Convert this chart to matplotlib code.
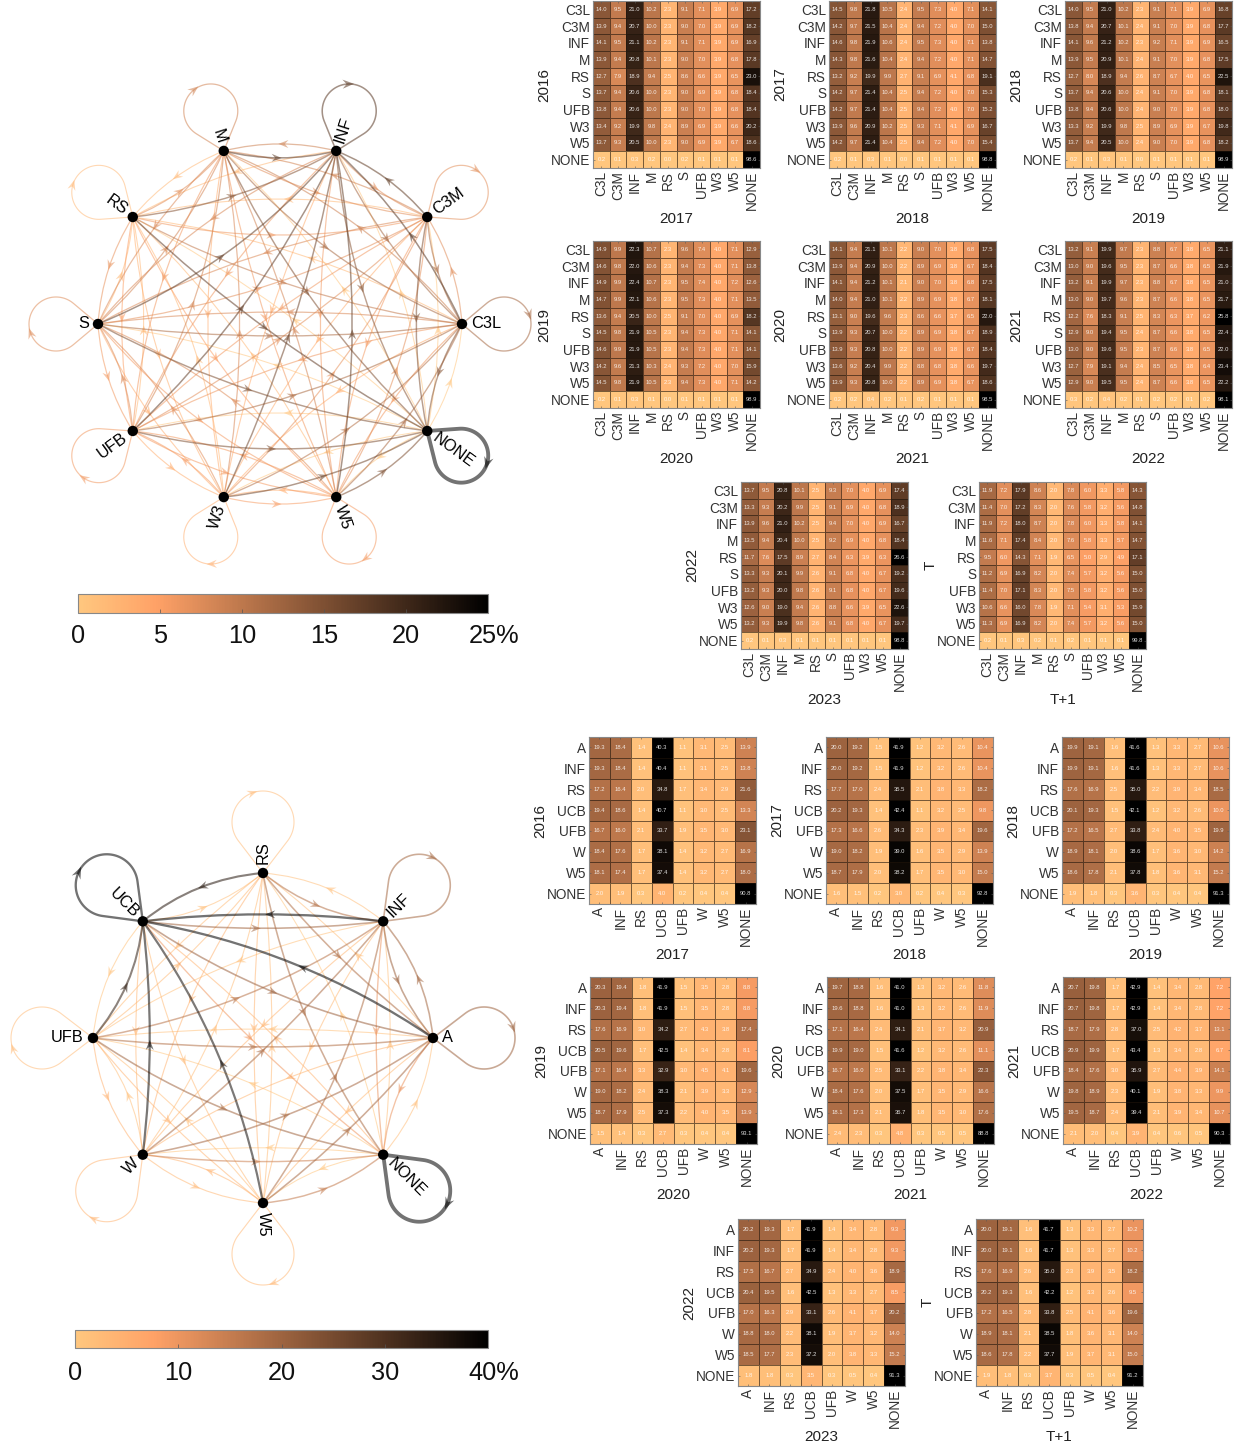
#!/usr/bin/env python3
"""Transition heatmaps by year and the two transition networks."""

import numpy as np
import matplotlib
matplotlib.use('Agg')
import matplotlib.pyplot as plt
from matplotlib.path import Path
from matplotlib.patches import PathPatch, Polygon, Circle
from matplotlib.cm import ScalarMappable
from matplotlib.colors import Normalize
from matplotlib.transforms import ScaledTranslation

plt.rcParams['font.family'] = ['Liberation Sans', 'DejaVu Sans']

W, H = 1234, 1443

# upper block: position classes
TOP_LABELS = ['C3L', 'C3M', 'INF', 'M', 'RS', 'S', 'UFB', 'W3', 'W5', 'NONE']
TOP_CBAR_TICKS = [0, 5, 10, 15, 20, 25]
TOP_CBAR_LABELS = ['0', '5', '10', '15', '20', '25%']

TOP_2017 = [
    [14.0, 9.5, 21.0, 10.2, 2.3, 9.1, 7.1, 3.9, 6.9, 17.2],
    [13.9, 9.4, 20.7, 10.0, 2.3, 9.0, 7.0, 3.9, 6.9, 18.2],
    [14.1, 9.5, 21.1, 10.2, 2.3, 9.1, 7.1, 3.9, 6.9, 16.9],
    [13.9, 9.4, 20.8, 10.1, 2.3, 9.0, 7.0, 3.9, 6.8, 17.8],
    [12.7, 7.9, 18.9, 9.4, 2.5, 8.6, 6.6, 3.9, 6.5, 23.0],
    [13.7, 9.4, 20.6, 10.0, 2.3, 9.0, 6.9, 3.9, 6.8, 18.4],
    [13.8, 9.4, 20.6, 10.0, 2.3, 9.0, 7.0, 3.9, 6.8, 18.4],
    [13.4, 9.2, 19.9, 9.8, 2.4, 8.9, 6.9, 3.9, 6.6, 20.2],
    [13.7, 9.3, 20.5, 10.0, 2.3, 9.0, 6.9, 3.9, 6.7, 18.6],
    [0.2, 0.1, 0.3, 0.2, 0.0, 0.2, 0.1, 0.1, 0.1, 98.6],
]
TOP_2018 = [
    [14.5, 9.8, 21.8, 10.5, 2.4, 9.5, 7.3, 4.0, 7.1, 14.1],
    [14.2, 9.7, 21.5, 10.4, 2.4, 9.4, 7.2, 4.0, 7.0, 15.0],
    [14.6, 9.8, 21.9, 10.6, 2.4, 9.5, 7.3, 4.0, 7.1, 13.8],
    [14.3, 9.8, 21.6, 10.4, 2.4, 9.4, 7.2, 4.0, 7.1, 14.7],
    [13.2, 9.2, 19.9, 9.9, 2.7, 9.1, 6.9, 4.1, 6.8, 19.1],
    [14.2, 9.7, 21.4, 10.4, 2.5, 9.4, 7.2, 4.0, 7.0, 15.3],
    [14.2, 9.7, 21.4, 10.4, 2.5, 9.4, 7.2, 4.0, 7.0, 15.2],
    [13.9, 9.6, 20.9, 10.2, 2.5, 9.3, 7.1, 4.1, 6.9, 16.7],
    [14.2, 9.7, 21.4, 10.4, 2.5, 9.4, 7.2, 4.0, 7.0, 15.4],
    [0.2, 0.1, 0.3, 0.1, 0.0, 0.1, 0.1, 0.1, 0.1, 98.8],
]
TOP_2019 = [
    [14.0, 9.5, 21.0, 10.2, 2.3, 9.1, 7.1, 3.9, 6.9, 16.8],
    [13.8, 9.4, 20.7, 10.1, 2.4, 9.1, 7.0, 3.9, 6.8, 17.7],
    [14.1, 9.6, 21.2, 10.2, 2.3, 9.2, 7.1, 3.9, 6.9, 16.5],
    [13.9, 9.5, 20.9, 10.1, 2.4, 9.1, 7.0, 3.9, 6.8, 17.5],
    [12.7, 8.0, 18.9, 9.4, 2.6, 8.7, 6.7, 4.0, 6.5, 22.5],
    [13.7, 9.4, 20.6, 10.0, 2.4, 9.1, 7.0, 3.9, 6.8, 18.1],
    [13.8, 9.4, 20.6, 10.0, 2.4, 9.0, 7.0, 3.9, 6.8, 18.0],
    [13.3, 9.2, 19.9, 9.8, 2.5, 8.9, 6.9, 3.9, 6.7, 19.8],
    [13.7, 9.4, 20.5, 10.0, 2.4, 9.0, 7.0, 3.9, 6.8, 18.2],
    [0.2, 0.1, 0.3, 0.1, 0.0, 0.1, 0.1, 0.1, 0.1, 98.9],
]
TOP_2020 = [
    [14.9, 9.9, 22.3, 10.7, 2.3, 9.6, 7.4, 4.0, 7.1, 12.9],
    [14.6, 9.8, 22.0, 10.6, 2.3, 9.4, 7.3, 4.0, 7.1, 13.8],
    [14.9, 9.9, 22.4, 10.7, 2.3, 9.5, 7.4, 4.0, 7.2, 12.6],
    [14.7, 9.9, 22.1, 10.6, 2.3, 9.5, 7.3, 4.0, 7.1, 13.5],
    [13.6, 9.4, 20.5, 10.0, 2.5, 9.1, 7.0, 4.0, 6.9, 18.2],
    [14.5, 9.8, 21.9, 10.5, 2.3, 9.4, 7.3, 4.0, 7.1, 14.1],
    [14.6, 9.9, 21.9, 10.5, 2.3, 9.4, 7.3, 4.0, 7.1, 14.1],
    [14.2, 9.6, 21.3, 10.3, 2.4, 9.3, 7.2, 4.0, 7.0, 15.9],
    [14.5, 9.8, 21.9, 10.5, 2.3, 9.4, 7.3, 4.0, 7.1, 14.2],
    [0.2, 0.1, 0.3, 0.1, 0.0, 0.1, 0.1, 0.1, 0.1, 98.9],
]
TOP_2021 = [
    [14.1, 9.4, 21.1, 10.1, 2.2, 9.0, 7.0, 3.8, 6.8, 17.5],
    [13.9, 9.4, 20.9, 10.0, 2.2, 8.9, 6.9, 3.8, 6.7, 18.4],
    [14.1, 9.4, 21.2, 10.1, 2.1, 9.0, 7.0, 3.8, 6.8, 17.5],
    [14.0, 9.4, 21.0, 10.1, 2.2, 8.9, 6.9, 3.8, 6.7, 18.1],
    [13.1, 9.0, 19.6, 9.6, 2.3, 8.6, 6.6, 3.7, 6.5, 22.0],
    [13.9, 9.3, 20.7, 10.0, 2.2, 8.9, 6.9, 3.8, 6.7, 18.9],
    [13.9, 9.3, 20.8, 10.0, 2.2, 8.9, 6.9, 3.8, 6.7, 18.4],
    [13.6, 9.2, 20.4, 9.9, 2.2, 8.8, 6.8, 3.8, 6.6, 19.7],
    [13.9, 9.3, 20.8, 10.0, 2.2, 8.9, 6.9, 3.8, 6.7, 18.6],
    [0.2, 0.2, 0.4, 0.2, 0.1, 0.2, 0.1, 0.1, 0.1, 98.5],
]
TOP_2022 = [
    [13.2, 9.1, 19.9, 9.7, 2.3, 8.8, 6.7, 3.8, 6.5, 21.1],
    [13.0, 9.0, 19.6, 9.5, 2.3, 8.7, 6.6, 3.8, 6.5, 21.9],
    [13.2, 9.1, 19.9, 9.7, 2.3, 8.8, 6.7, 3.8, 6.5, 21.0],
    [13.0, 9.0, 19.7, 9.6, 2.3, 8.7, 6.6, 3.8, 6.5, 21.7],
    [12.2, 7.6, 18.3, 9.1, 2.5, 8.3, 6.3, 3.7, 6.2, 25.8],
    [12.9, 9.0, 19.4, 9.5, 2.4, 8.7, 6.6, 3.8, 6.5, 22.4],
    [13.0, 9.0, 19.6, 9.5, 2.3, 8.7, 6.6, 3.8, 6.5, 22.0],
    [12.7, 7.9, 19.1, 9.4, 2.4, 8.5, 6.5, 3.8, 6.4, 23.4],
    [12.9, 9.0, 19.5, 9.5, 2.4, 8.7, 6.6, 3.8, 6.5, 22.2],
    [0.3, 0.2, 0.4, 0.2, 0.1, 0.2, 0.2, 0.1, 0.2, 98.1],
]
TOP_2023 = [
    [13.7, 9.5, 20.8, 10.1, 2.5, 9.3, 7.0, 4.0, 6.9, 17.4],
    [13.3, 9.3, 20.2, 9.9, 2.5, 9.1, 6.9, 4.0, 6.8, 18.9],
    [13.9, 9.6, 21.0, 10.2, 2.5, 9.4, 7.0, 4.0, 6.9, 16.7],
    [13.5, 9.4, 20.4, 10.0, 2.5, 9.2, 6.9, 4.0, 6.8, 18.4],
    [11.7, 7.6, 17.5, 8.9, 2.7, 8.4, 6.3, 3.9, 6.3, 26.6],
    [13.3, 9.3, 20.1, 9.9, 2.6, 9.1, 6.8, 4.0, 6.7, 19.2],
    [13.2, 9.3, 20.0, 9.8, 2.6, 9.1, 6.8, 4.0, 6.7, 19.6],
    [12.6, 9.0, 19.0, 9.4, 2.6, 8.8, 6.6, 3.9, 6.5, 22.6],
    [13.2, 9.3, 19.9, 9.8, 2.6, 9.1, 6.8, 4.0, 6.7, 19.7],
    [0.2, 0.1, 0.3, 0.1, 0.1, 0.1, 0.1, 0.1, 0.1, 98.8],
]
TOP_T = [
    [11.9, 7.2, 17.9, 8.6, 2.0, 7.8, 6.0, 3.3, 5.8, 14.3],
    [11.4, 7.0, 17.2, 8.3, 2.0, 7.6, 5.8, 3.2, 5.6, 14.8],
    [11.9, 7.2, 18.0, 8.7, 2.0, 7.8, 6.0, 3.3, 5.8, 14.1],
    [11.6, 7.1, 17.4, 8.4, 2.0, 7.6, 5.8, 3.3, 5.7, 14.7],
    [9.5, 6.0, 14.3, 7.1, 1.9, 6.5, 5.0, 2.9, 4.9, 17.1],
    [11.2, 6.9, 16.9, 8.2, 2.0, 7.4, 5.7, 3.2, 5.6, 15.0],
    [11.4, 7.0, 17.1, 8.3, 2.0, 7.5, 5.8, 3.2, 5.6, 15.0],
    [10.6, 6.6, 16.0, 7.8, 1.9, 7.1, 5.4, 3.1, 5.3, 15.9],
    [11.3, 6.9, 16.9, 8.2, 2.0, 7.4, 5.7, 3.2, 5.6, 15.0],
    [0.2, 0.1, 0.3, 0.2, 0.1, 0.2, 0.1, 0.1, 0.1, 99.8],
]

# lower block: technique classes
BOT_LABELS = ['A', 'INF', 'RS', 'UCB', 'UFB', 'W', 'W5', 'NONE']
BOT_CBAR_TICKS = [0, 10, 20, 30, 40]
BOT_CBAR_LABELS = ['0', '10', '20', '30', '40%']

BOT_2017 = [
    [19.3, 18.4, 1.4, 40.3, 1.1, 3.1, 2.5, 13.9],
    [19.3, 18.4, 1.4, 40.4, 1.1, 3.1, 2.5, 13.8],
    [17.2, 16.4, 2.0, 34.8, 1.7, 3.4, 2.9, 21.6],
    [19.4, 18.6, 1.4, 40.7, 1.1, 3.0, 2.5, 13.3],
    [16.7, 16.0, 2.1, 33.7, 1.9, 3.5, 3.0, 23.1],
    [18.4, 17.6, 1.7, 38.1, 1.4, 3.2, 2.7, 16.9],
    [18.1, 17.4, 1.7, 37.4, 1.4, 3.2, 2.7, 18.0],
    [2.0, 1.9, 0.3, 4.0, 0.2, 0.4, 0.4, 90.8],
]
BOT_2018 = [
    [20.0, 19.2, 1.5, 41.9, 1.2, 3.2, 2.6, 10.4],
    [20.0, 19.2, 1.5, 41.9, 1.2, 3.2, 2.6, 10.4],
    [17.7, 17.0, 2.4, 35.5, 2.1, 3.8, 3.3, 18.2],
    [20.2, 19.3, 1.4, 42.4, 1.1, 3.2, 2.5, 9.8],
    [17.3, 16.6, 2.6, 34.3, 2.3, 3.9, 3.4, 19.6],
    [19.0, 18.2, 1.9, 39.0, 1.6, 3.5, 2.9, 13.9],
    [18.7, 17.9, 2.0, 38.2, 1.7, 3.5, 3.0, 15.0],
    [1.6, 1.5, 0.2, 3.0, 0.2, 0.4, 0.3, 92.8],
]
BOT_2019 = [
    [19.9, 19.1, 1.6, 41.6, 1.3, 3.3, 2.7, 10.6],
    [19.9, 19.1, 1.6, 41.6, 1.3, 3.3, 2.7, 10.6],
    [17.6, 16.9, 2.5, 35.0, 2.2, 3.9, 3.4, 18.5],
    [20.1, 19.3, 1.5, 42.1, 1.2, 3.2, 2.6, 10.0],
    [17.2, 16.5, 2.7, 33.8, 2.4, 4.0, 3.5, 19.9],
    [18.9, 18.1, 2.0, 38.6, 1.7, 3.6, 3.0, 14.2],
    [18.6, 17.8, 2.1, 37.8, 1.8, 3.6, 3.1, 15.2],
    [1.9, 1.8, 0.3, 3.6, 0.3, 0.4, 0.4, 91.3],
]
BOT_2020 = [
    [20.3, 19.4, 1.8, 41.9, 1.5, 3.5, 2.8, 8.8],
    [20.3, 19.4, 1.8, 41.9, 1.5, 3.5, 2.8, 8.8],
    [17.6, 16.9, 3.0, 34.2, 2.7, 4.3, 3.8, 17.4],
    [20.5, 19.6, 1.7, 42.5, 1.4, 3.4, 2.8, 8.1],
    [17.1, 16.4, 3.3, 32.9, 3.0, 4.5, 4.1, 19.6],
    [19.0, 18.2, 2.4, 38.3, 2.1, 3.9, 3.3, 12.9],
    [18.7, 17.9, 2.5, 37.3, 2.2, 4.0, 3.5, 13.9],
    [1.5, 1.4, 0.3, 2.7, 0.3, 0.4, 0.4, 93.1],
]
BOT_2021 = [
    [19.7, 18.8, 1.6, 41.0, 1.3, 3.2, 2.6, 11.8],
    [19.6, 18.8, 1.6, 41.0, 1.3, 3.2, 2.6, 11.9],
    [17.1, 16.4, 2.4, 34.1, 2.1, 3.7, 3.2, 20.9],
    [19.9, 19.0, 1.5, 41.6, 1.2, 3.2, 2.6, 11.1],
    [16.7, 16.0, 2.5, 33.1, 2.2, 3.8, 3.4, 22.3],
    [18.4, 17.6, 2.0, 37.5, 1.7, 3.5, 2.9, 16.6],
    [18.1, 17.3, 2.1, 36.7, 1.8, 3.5, 3.0, 17.6],
    [2.4, 2.3, 0.3, 4.8, 0.3, 0.5, 0.5, 88.8],
]
BOT_2022 = [
    [20.7, 19.8, 1.7, 42.9, 1.4, 3.4, 2.8, 7.2],
    [20.7, 19.8, 1.7, 42.9, 1.4, 3.4, 2.8, 7.2],
    [18.7, 17.9, 2.8, 37.0, 2.5, 4.2, 3.7, 13.1],
    [20.9, 19.9, 1.7, 43.4, 1.3, 3.4, 2.8, 6.7],
    [18.4, 17.6, 3.0, 35.9, 2.7, 4.4, 3.9, 14.1],
    [19.8, 18.9, 2.3, 40.1, 1.9, 3.8, 3.3, 9.9],
    [19.5, 18.7, 2.4, 39.4, 2.1, 3.9, 3.4, 10.7],
    [2.1, 2.0, 0.4, 3.9, 0.4, 0.6, 0.5, 90.3],
]
BOT_2023 = [
    [20.2, 19.3, 1.7, 41.9, 1.4, 3.4, 2.8, 9.3],
    [20.2, 19.3, 1.7, 41.9, 1.4, 3.4, 2.8, 9.3],
    [17.5, 16.7, 2.7, 34.9, 2.4, 4.0, 3.6, 18.9],
    [20.4, 19.5, 1.6, 42.5, 1.3, 3.3, 2.7, 8.5],
    [17.0, 16.3, 2.9, 33.1, 2.6, 4.1, 3.7, 20.2],
    [18.8, 18.0, 2.2, 38.1, 1.9, 3.7, 3.2, 14.0],
    [18.5, 17.7, 2.3, 37.2, 2.0, 3.8, 3.3, 15.2],
    [1.8, 1.8, 0.3, 3.5, 0.3, 0.5, 0.4, 91.3],
]
BOT_T = [
    [20.0, 19.1, 1.6, 41.7, 1.3, 3.3, 2.7, 10.2],
    [20.0, 19.1, 1.6, 41.7, 1.3, 3.3, 2.7, 10.2],
    [17.6, 16.9, 2.6, 35.0, 2.3, 3.9, 3.5, 18.2],
    [20.2, 19.3, 1.6, 42.2, 1.2, 3.3, 2.6, 9.5],
    [17.2, 16.5, 2.8, 33.8, 2.5, 4.1, 3.6, 19.6],
    [18.9, 18.1, 2.1, 38.5, 1.8, 3.6, 3.1, 14.0],
    [18.6, 17.8, 2.2, 37.7, 1.9, 3.7, 3.1, 15.0],
    [1.9, 1.8, 0.3, 3.7, 0.3, 0.5, 0.4, 91.2],
]

# panel layout in reference pixels: matrix, row title, column title, left, top
TOP_PANELS = [
    (TOP_2017, '2016', '2017', 593, 1), (TOP_2018, '2017', '2018', 829, 1),
    (TOP_2019, '2018', '2019', 1065, 1), (TOP_2020, '2019', '2020', 593, 241),
    (TOP_2021, '2020', '2021', 829, 241), (TOP_2022, '2021', '2022', 1065, 241),
    (TOP_2023, '2022', '2023', 741, 482), (TOP_T, 'T', 'T+1', 979, 482),
]
BOT_PANELS = [
    (BOT_2017, '2016', '2017', 589, 737), (BOT_2018, '2017', '2018', 826, 737),
    (BOT_2019, '2018', '2019', 1062, 737), (BOT_2020, '2019', '2020', 590, 977),
    (BOT_2021, '2020', '2021', 827, 977), (BOT_2022, '2021', '2022', 1063, 977),
    (BOT_2023, '2022', '2023', 738, 1219), (BOT_T, 'T', 'T+1', 976, 1219),
]
PANEL_SIZE = 167
EDGE_ALPHA = 0.55
BASE_LW_PX = 1.05
CMAP = plt.get_cmap('copper_r')


def px_axes(fig, left, top, width, height):
    return fig.add_axes([left / W, 1 - (top + height) / H, width / W, height / H])


def draw_heatmap(fig, matrix, labels, row_title, col_title, left, top, vmax):
    ax = px_axes(fig, left, top, PANEL_SIZE, PANEL_SIZE)
    vals = np.array(matrix)
    n = len(labels)
    ax.pcolormesh(vals, cmap=CMAP, vmin=0, vmax=vmax,
                  edgecolors=(0.12, 0.08, 0.04, 0.6), linewidth=0.6)
    ax.set_xlim(0, n)
    ax.set_ylim(n, 0)
    for r in range(n):
        for c in range(n):
            ax.text(c + 0.5, r + 0.5, f'{vals[r, c]:.1f}', ha='center', va='center',
                    fontsize=4.2, color='white', alpha=0.85)
    pos = np.arange(n) + 0.5
    ax.set_xticks(pos, labels, rotation=90, fontsize=9.8, color='#333333')
    ax.set_yticks(pos, labels, fontsize=9.8, color='#333333')
    ax.tick_params(direction='in', length=1.5, width=0.4, color='#555555', pad=2,
                   top=True, right=True)
    for spine in ax.spines.values():
        spine.set_color('#888888')
        spine.set_linewidth(0.8)
    ax.annotate(col_title, xy=(0.5, 0), xycoords='axes fraction', xytext=(0, -36.5),
                textcoords='offset points', ha='center', va='center',
                fontsize=11, color='#222222')
    ax.annotate(row_title, xy=(0, 0.5), xycoords='axes fraction', xytext=(-35, 0),
                textcoords='offset points', ha='center', va='center', rotation=90,
                fontsize=11, color='#222222')


def arrow_head(ax, tip, heading, size, color, zorder):
    # barbed head, concave at the back
    ux, uy = heading / np.hypot(*heading)
    nx, ny = -uy, ux
    x, y = tip
    half = 0.4 * size
    pts = [(x + 0.5 * size * ux, y + 0.5 * size * uy),
           (x - 0.5 * size * ux + half * nx, y - 0.5 * size * uy + half * ny),
           (x - 0.15 * size * ux, y - 0.15 * size * uy),
           (x - 0.5 * size * ux - half * nx, y - 0.5 * size * uy - half * ny)]
    ax.add_patch(Polygon(pts, closed=True, facecolor=color, edgecolor='none',
                         alpha=EDGE_ALPHA, zorder=zorder))


def draw_edge(ax, p0, p1, sag, weight, vmax, lw_scale, zorder):
    p0, p1 = np.array(p0), np.array(p1)
    d = p1 - p0
    # edges bow to the right of the travel direction
    normal = np.array([d[1], -d[0]]) / np.hypot(*d)
    ctrl = (p0 + p1) / 2 + 2 * sag * normal
    color = CMAP(min(weight / vmax, 1.0))
    lw = (BASE_LW_PX + lw_scale * weight / vmax) * 0.72
    ax.add_patch(PathPatch(Path([p0, ctrl, p1], [Path.MOVETO, Path.CURVE3, Path.CURVE3]),
                           fill=False, edgecolor=color, linewidth=lw,
                           alpha=EDGE_ALPHA, zorder=zorder))
    t = 0.47
    mid = (1 - t) ** 2 * p0 + 2 * t * (1 - t) * ctrl + t ** 2 * p1
    heading = 2 * (1 - t) * (ctrl - p0) + 2 * t * (p1 - ctrl)
    arrow_head(ax, mid, heading, 10, color, zorder)


def draw_loop(ax, node, theta, dist, rad, weight, vmax, lw_scale, zorder):
    node = np.array(node)
    center = node + dist * np.array([np.cos(theta), np.sin(theta)])
    beta = np.arccos(rad / dist)
    angles = np.linspace(theta + np.pi - beta, theta - np.pi + beta, 80)
    arc = center + rad * np.column_stack([np.cos(angles), np.sin(angles)])
    pts = np.vstack([node, arc, node])
    color = CMAP(min(weight / vmax, 1.0))
    lw = (BASE_LW_PX + lw_scale * weight / vmax) * 0.72
    ax.add_patch(PathPatch(Path(pts), fill=False, edgecolor=color, linewidth=lw,
                           alpha=EDGE_ALPHA, zorder=zorder))
    a = theta + np.radians(20)
    tip = center + rad * np.array([np.cos(a), np.sin(a)])
    arrow_head(ax, tip, np.array([np.sin(a), -np.cos(a)]), 10 + 2 * min(weight / vmax, 1),
               color, zorder)


def draw_network(ax, matrix, labels, cx, cy, rx, ry, sags, loop_dist, loop_rad,
                 lw_scale, vmax):
    vals = np.array(matrix)
    n = len(labels)
    thetas = 2 * np.pi * np.arange(n) / n
    nodes = np.column_stack([cx + rx * np.cos(thetas), (H - cy) + ry * np.sin(thetas)])
    order = sorted(((vals[i, j], i, j) for i in range(n) for j in range(n)))
    for z, (w, i, j) in enumerate(order):
        zorder = 2 + z * 0.01
        if i == j:
            draw_loop(ax, nodes[i], thetas[i], loop_dist, loop_rad, w, vmax, lw_scale, zorder)
        else:
            k = min((i - j) % n, (j - i) % n)
            draw_edge(ax, nodes[i], nodes[j], sags[k], w, vmax, lw_scale, zorder)
    for i, name in enumerate(labels):
        ax.add_patch(Circle(nodes[i], 5.2, facecolor='black', edgecolor='none', zorder=5))
        deg = np.degrees(thetas[i])
        left_side = 90 < deg < 270
        off = 9 * np.array([np.cos(thetas[i]), np.sin(thetas[i])])
        ax.text(*(nodes[i] + off), name, rotation=deg - 180 if left_side else deg,
                rotation_mode='anchor', ha='right' if left_side else 'left', va='center',
                fontsize=11.8, color='black', zorder=6)


def draw_colorbar(fig, left, top, width, height, vmax, ticks, tick_labels, pad):
    cax = px_axes(fig, left, top, width, height)
    cb = fig.colorbar(ScalarMappable(norm=Normalize(0, vmax), cmap=CMAP), cax=cax,
                      orientation='horizontal')
    cb.set_ticks(ticks, labels=tick_labels)
    cb.ax.tick_params(direction='in', length=3, width=0.5, color='#555555',
                      labelsize=18.3, pad=pad, labelcolor='#111111')
    cb.outline.set_edgecolor('#888888')
    cb.outline.set_linewidth(0.8)
    # the last label carries the percent sign and sits a bit right of its tick
    last = cb.ax.get_xticklabels()[-1]
    last.set_transform(last.get_transform() + ScaledTranslation(6 / 100, 0, fig.dpi_scale_trans))


def main():
    fig = plt.figure(figsize=(W / 100, H / 100), dpi=100)

    net_ax = fig.add_axes([0, 0, 1, 1])
    net_ax.set_xlim(0, W)
    net_ax.set_ylim(0, H)
    net_ax.axis('off')

    # sagitta of the arcs by ring distance between the two nodes
    draw_network(net_ax, TOP_T, TOP_LABELS, 280, 324, 182, 182,
                 {1: 7, 2: 11, 3: 18, 4: 16, 5: 12}, 42, 27, 0.7, 25)
    draw_network(net_ax, BOT_T, BOT_LABELS, 263, 1038, 170, 165,
                 {1: 10, 2: 7, 3: 17, 4: 9}, 51, 31, 1.2, 40)

    for matrix, row_title, col_title, left, top in TOP_PANELS:
        draw_heatmap(fig, matrix, TOP_LABELS, row_title, col_title, left, top, 25)
    for matrix, row_title, col_title, left, top in BOT_PANELS:
        draw_heatmap(fig, matrix, BOT_LABELS, row_title, col_title, left, top, 40)

    draw_colorbar(fig, 78, 594, 410, 19, 25, TOP_CBAR_TICKS, TOP_CBAR_LABELS, 8)
    draw_colorbar(fig, 75, 1330, 413, 18, 40, BOT_CBAR_TICKS, BOT_CBAR_LABELS, 9)

    fig.savefig('out.png', dpi=100, facecolor='white')


if __name__ == '__main__':
    main()
